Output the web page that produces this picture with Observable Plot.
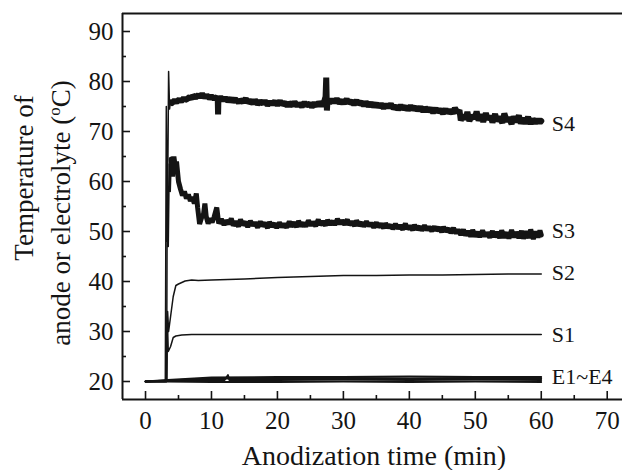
<!DOCTYPE html>
<html><head><meta charset="utf-8">
<script src="https://cdn.jsdelivr.net/npm/d3@7"></script>
<script src="https://cdn.jsdelivr.net/npm/@observablehq/plot@0.6"></script>
<style>body{margin:0;background:#fff}#chart{width:622px;height:470px}</style>
</head><body><div id="chart"></div>
<script>
const xTicks = [0, 10, 20, 30, 40, 50, 60, 70];
const xMinor = [5, 15, 25, 35, 45, 55, 65];
const yTicks = [20, 30, 40, 50, 60, 70, 80, 90];
const yMinor = [25, 35, 45, 55, 65, 75, 85];
const xDomain = [-3.49, 72.62];
const yDomain = [16.4, 93.6];

const S4 = [[0,20],[3.0,20],[3.15,75],[3.3,48],[3.5,82],[3.65,74.5],[3.8,76.3],
[4.0,75.7],[4.4,76.2],[4.7,75.9],[5.1,76.4],[5.4,76.0],[5.8,76.7],[6.0,76.3],[6.3,76.5],[6.7,76.9],[7.0,76.5],[7.2,77.2],[7.6,76.8],[8.0,77.3],[8.3,76.9],[8.6,77.5],[9.0,76.8],[9.3,77.2],[9.7,76.7],[10.0,77.0],[10.4,76.6],[10.8,76.9],[10.95,76.5],[11.0,73.4],[11.05,76.4],[11.4,76.8],[11.8,76.3],
[12.1,76.7],[12.5,76.1],[12.9,76.6],[13.2,76.0],[13.6,76.5],[14.1,75.8],[14.4,76.3],[14.8,75.9],[15.2,76.6],[15.5,75.8],[15.9,76.2],[16.3,75.6],[16.6,76.3],[17.0,75.5],[17.4,76.0],[17.8,75.6],[18.1,76.1],[18.5,75.3],[18.9,75.9],[19.2,75.5],[19.6,76.0],
[20.0,75.3],[20.4,76.1],[20.7,75.4],[21.1,75.8],[21.5,75.1],[21.8,75.7],[22.3,75.2],[22.6,75.9],[23.0,75.1],[23.3,75.6],[23.7,75.0],[24.1,75.8],[24.4,75.2],[24.9,75.6],[25.2,74.9],[25.6,75.7],[26.0,75.1],[26.3,75.9],[26.7,75.2],[27.0,75.6],[27.3,77.0],[27.4,80.8],[27.5,74.2],[27.6,76.4],
[27.9,75.7],[28.3,76.4],[28.6,75.8],[29.0,76.5],[29.4,75.7],[29.8,76.2],[30.1,75.6],[30.5,76.5],[30.8,75.7],[31.2,76.1],[31.6,75.4],[32.0,76.2],[32.3,75.5],[32.7,75.9],[33.1,75.2],[33.4,75.9],[33.8,75.1],[34.2,75.7],[34.6,75.0],[35.0,75.6],
[35.3,74.9],[35.7,75.5],[36.1,74.7],[36.5,75.4],[36.8,74.8],[37.2,75.5],[37.6,74.6],[38.0,75.1],[38.3,74.4],[38.7,75.2],[39.1,74.5],[39.5,75.0],[39.8,74.3],[40.2,75.1],[40.6,74.4],[41.0,74.9],[41.3,74.2],[41.7,74.9],[42.1,74.0],[42.4,74.8],[42.8,74.1],[43.2,74.6],
[43.6,73.8],[44.0,74.6],[44.3,73.9],[44.7,74.4],[45.1,73.6],[45.5,74.5],[45.8,73.7],[46.2,74.3],[46.6,73.6],[46.9,74.7],[47.3,73.8],[47.6,74.3],[47.8,72.2],[48.2,73.3],[48.5,72.4],[48.8,73.9],[49.1,72.1],[49.5,73.2],[49.9,72.6],[50.2,74.0],[50.5,72.2],[50.9,73.4],
[51.2,71.9],[51.6,73.7],[51.9,72.4],[52.3,73.1],[52.6,71.8],[53.0,73.5],[53.3,72.1],[53.7,72.9],[54.1,71.7],[54.4,73.6],[54.8,72.0],[55.1,72.8],[55.5,71.5],[55.8,73.0],[56.2,71.9],[56.6,73.2],[56.9,71.6],[57.3,72.7],[57.6,71.6],[58.0,72.9],[58.4,71.5],[58.7,72.5],[59.1,71.7],[59.5,72.4],[59.8,71.8],[60.0,72.1]];

const S3 = [[0,20],[3.2,20],[3.3,62],[3.45,47],[3.6,63.5],[3.75,58],[3.9,64.5],[4.1,61],[4.3,65],[4.5,63],[4.7,64],[5.0,60],[5.3,58.5],[5.6,57.2],[5.9,58.0],[6.2,56.6],[6.5,57.4],[6.8,56.1],[7.1,56.9],[7.4,55.6],[7.7,57.6],[7.9,54.8],
[8.2,51.5],[8.5,52.8],[8.8,53.5],[9.0,55.6],[9.2,53.0],[9.5,51.6],[9.8,52.6],[10.1,51.8],[10.4,52.9],[10.8,54.8],[11.1,51.6],
[11.5,52.5],[11.9,51.3],[12.2,52.2],[12.6,51.5],[13.0,52.6],[13.3,51.2],[13.7,52.0],[14.1,51.0],[14.4,52.4],[14.8,51.3],[15.2,51.9],[15.5,50.9],[15.9,52.1],[16.3,51.2],[16.6,51.8],[17.0,50.8],[17.4,52.0],[17.7,51.1],[18.1,51.7],[18.5,50.7],[18.8,51.9],[19.2,51.0],[19.6,51.6],[19.9,50.7],
[20.3,51.8],[20.7,50.9],[21.0,51.5],[21.4,50.8],[21.8,52.0],[22.1,51.0],[22.5,51.8],[22.9,50.9],[23.2,52.1],[23.6,51.1],[24.0,51.7],[24.3,51.0],[24.7,52.2],[25.1,51.2],[25.4,51.9],[25.8,51.1],[26.2,52.4],[26.5,51.3],[26.9,52.0],[27.3,51.2],[27.6,52.3],[28.0,51.4],[28.4,52.1],[28.7,51.3],
[29.1,52.5],[29.5,51.5],[29.8,52.2],[30.2,51.4],[30.6,52.4],[30.9,51.3],[31.3,52.0],[31.7,51.1],[32.0,52.2],[32.4,51.2],[32.8,51.8],[33.1,51.0],[33.5,52.0],[33.9,51.1],[34.2,51.7],[34.6,50.8],[35.0,51.8],[35.3,50.9],[35.7,51.5],[36.1,50.7],[36.4,51.6],[36.8,50.8],[37.2,51.3],[37.5,50.5],
[37.9,51.5],[38.3,50.6],[38.6,51.2],[39.0,50.4],[39.4,51.6],[39.7,50.5],[40.1,51.1],[40.5,50.3],[40.8,51.3],[41.2,50.4],[41.6,51.0],[41.9,50.2],[42.3,51.2],[42.7,50.3],[43.0,50.9],[43.4,50.1],[43.8,51.0],[44.1,50.2],[44.5,50.8],[44.9,49.9],[45.2,50.9],[45.6,50.0],[46.0,50.6],[46.3,49.7],
[46.7,50.7],[47.1,49.6],[47.4,50.4],[47.8,49.3],[48.2,50.4],[48.5,49.2],[48.9,50.1],[49.3,49.0],[49.6,50.3],[50.0,49.0],[50.4,49.9],[50.7,48.9],[51.1,50.2],[51.5,49.0],[51.8,49.8],[52.2,48.8],[52.6,50.1],[52.9,48.9],[53.3,49.9],[53.7,48.7],[54.0,50.2],[54.4,48.8],[54.8,49.8],[55.1,48.6],
[55.5,50.3],[55.9,48.8],[56.2,49.9],[56.6,48.7],[57.0,50.1],[57.3,48.6],[57.7,50.0],[58.1,48.7],[58.4,50.4],[58.8,48.5],[59.2,50.0],[59.5,48.8],[59.8,50.2],[60.0,49.3]];

const S2 = [[0,20],[3.2,20],[3.35,34],[3.5,30],[3.8,33],[4.2,37],[4.6,39.2],[5.0,39.5],[5.5,39.8],[6,40.1],[7,40.3],[8,40.2],[10,40.3],[15,40.5],[20,40.8],[25,41.0],[30,41.2],[35,41.2],[40,41.3],[45,41.3],[50,41.4],[55,41.5],[60,41.5]];
const S1 = [[0,20],[3.2,20],[3.3,33],[3.45,26],[3.8,27],[4.2,28.8],[4.6,29.1],[5.5,29.3],[7,29.4],[10,29.4],[20,29.4],[30,29.4],[40,29.4],[50,29.4],[60,29.4]];
const E1 = [[0,20],[3,20],[10,19.9],[20,19.9],[30,20.0],[40,19.9],[50,20.0],[60,19.9]];
const E2 = [[0,20],[3.5,20.1],[8,20.3],[12,20.3],[12.5,21.3],[12.7,20.3],[20,20.3],[30,20.4],[40,20.3],[50,20.4],[60,20.3]];
const E3 = [[0,20],[3.5,20.2],[10,20.6],[20,20.6],[30,20.7],[40,20.6],[50,20.7],[60,20.6]];
const E4 = [[0,20],[3.4,20.3],[10,20.8],[20,20.9],[30,20.9],[40,21.0],[50,20.9],[60,20.9]];

const labelNames = ["S4", "S3", "S2", "S1", "E1~E4"];
const labelX = [61.6, 61.6, 61.6, 61.6, 61.6];
const labelY = [71.6, 50.2, 41.7, 29.4, 20.9];

const toRows = (name, arr) => arr.map(([t, v]) => ({s: name, t, v}));
const thin = [...toRows("S2", S2), ...toRows("S1", S1)];
const eRows = [...toRows("E1", E1), ...toRows("E2", E2), ...toRows("E3", E3), ...toRows("E4", E4)];
const s3rows = toRows("S3", S3);
const s4rows = toRows("S4", S4);
const startEnd = 3.9;
const labels = labelNames.map((n, i) => ({n, x: labelX[i], y: labelY[i]}));

const ink = "#141414";
const font = "'Liberation Serif','Times New Roman',serif";
const plot = Plot.plot({
  width: 622, height: 470,
  marginLeft: 122, marginRight: -2, marginTop: 13, marginBottom: 71,
  style: {fontFamily: font, fontSize: "25px", color: ink, background: "#fff"},
  x: {domain: xDomain},
  y: {domain: yDomain},
  marks: [
    Plot.line(eRows, {x: "t", y: "v", z: "s", stroke: ink, strokeWidth: 1.8}),
    Plot.line(thin, {x: "t", y: "v", z: "s", stroke: ink, strokeWidth: 1.5}),
    Plot.line(s3rows.filter(d => d.t <= startEnd), {x: "t", y: "v", stroke: ink, strokeWidth: 1.5}),
    Plot.line(s3rows.filter(d => d.t >= startEnd), {x: "t", y: "v", stroke: ink, strokeWidth: 5, strokeLinejoin: "miter"}),
    Plot.line(s4rows.filter(d => d.t <= startEnd), {x: "t", y: "v", stroke: ink, strokeWidth: 1.5}),
    Plot.line(s4rows.filter(d => d.t >= startEnd), {x: "t", y: "v", stroke: ink, strokeWidth: 6, strokeLinejoin: "miter"}),
    Plot.text(labels, {x: "x", y: "y", text: "n", textAnchor: "start", lineAnchor: "middle", fontSize: 22, fontFamily: font, fill: ink}),
    Plot.tickX(xTicks, {x: d => d, insetTop: 378, stroke: ink, strokeWidth: 1.6}),
    Plot.tickX(xMinor, {x: d => d, insetTop: 382, stroke: ink, strokeWidth: 1.6}),
    Plot.tickY(yTicks, {y: d => d, insetRight: 494, stroke: ink, strokeWidth: 1.6}),
    Plot.tickY(yMinor, {y: d => d, insetRight: 498, stroke: ink, strokeWidth: 1.6}),
    Plot.ruleY([yDomain[0], yDomain[1]], {stroke: ink, strokeWidth: 2}),
    Plot.ruleX([xDomain[0]], {stroke: ink, strokeWidth: 2}),
    Plot.axisX({ticks: xTicks, tickSize: 0, tickPadding: 12, label: null, fontSize: 25, fontFamily: font}),
    Plot.axisY({ticks: yTicks, tickSize: 0, tickPadding: 9, label: null, fontSize: 25, fontFamily: font})
  ]
});
const svg = d3.select(plot);
svg.append("text").attr("x", 374).attr("y", 465).attr("text-anchor", "middle")
  .attr("font-family", font).attr("font-size", 28).attr("fill", ink).text("Anodization time (min)");
svg.append("text").attr("transform", "translate(33,178) rotate(-90)").attr("text-anchor", "middle")
  .attr("font-family", font).attr("font-size", 27).attr("fill", ink).text("Temperature of");
const t2 = svg.append("text").attr("transform", "translate(70,213) rotate(-90)").attr("text-anchor", "middle")
  .attr("font-family", font).attr("font-size", 27).attr("fill", ink);
t2.append("tspan").text("anode or electrolyte (");
t2.append("tspan").attr("font-size", 17).attr("dy", -10).text("o");
t2.append("tspan").attr("dy", 10).text("C)");
document.getElementById("chart").appendChild(plot);
</script></body></html>
